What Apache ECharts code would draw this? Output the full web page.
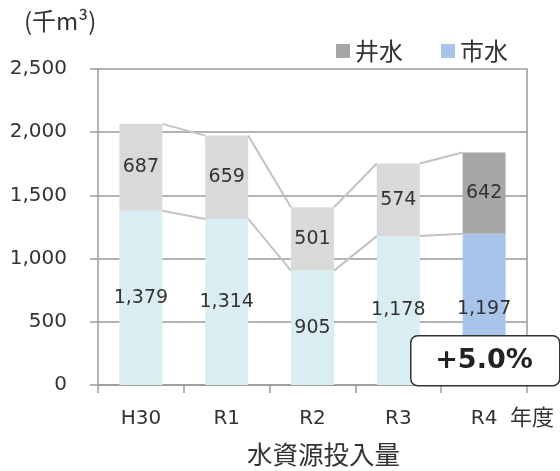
<!DOCTYPE html>
<html><head><meta charset="utf-8">
<script src="https://cdn.jsdelivr.net/npm/echarts@6/dist/echarts.min.js"></script>
<style>html,body{margin:0;padding:0;background:#fff}#c{width:560px;height:471px}</style>
</head><body><div id="c"></div>
<script>
const categories = ['H30','R1','R2','R3','R4'];
const cityWater = [1379,1314,905,1178,1197];
const wellWater = [687,659,501,574,642];
const yTicks = [0,500,1000,1500,2000,2500];
const changeText = '+5.0%';

const FONT = '"DejaVu Sans","Noto Sans CJK JP",sans-serif';
const CJK = '"Noto Sans CJK JP","DejaVu Sans",sans-serif';
const TXT = '#333';
const cityColor = '#daedf3', cityHi = '#a9c4eb';
const wellColor = '#d9d9d9', wellHi = '#a6a6a6';
const AX = '#9a9a9a';
const last = categories.length - 1;
const fmt = v => v.toLocaleString('en-US');

const connectData = [];
for (let i = 0; i < last; i++) {
  connectData.push([i, cityWater[i], cityWater[i] + wellWater[i], cityWater[i+1], cityWater[i+1] + wellWater[i+1]]);
}

const chart = echarts.init(document.getElementById('c'), null, {renderer:'canvas'});
chart.setOption({
  animation:false,
  textStyle:{fontFamily:FONT},
  grid:{left:98,right:33,top:69,bottom:86},
  legend:{
    left:331, top:34, itemWidth:14, itemHeight:14, itemGap:38, icon:'rect',
    textStyle:{fontSize:24,color:TXT,fontFamily:CJK},
    data:[{name:'井水',itemStyle:{color:wellHi}},{name:'市水',itemStyle:{color:cityHi}}]
  },
  xAxis:{
    type:'category', data:categories,
    axisLine:{lineStyle:{color:AX,width:1.5}},
    axisTick:{show:true,length:8,lineStyle:{color:AX,width:1.5}},
    axisLabel:{fontSize:20,color:TXT,margin:24,fontFamily:FONT}
  },
  yAxis:[{
    type:'value', min:yTicks[0], max:yTicks[yTicks.length-1], interval:500,
    axisLine:{show:true,lineStyle:{color:AX,width:1.5}},
    axisTick:{show:true,length:8,lineStyle:{color:AX,width:1.5}},
    splitLine:{lineStyle:{color:AX,width:1.5}},
    axisLabel:{fontSize:20,color:TXT,margin:31,formatter:v=>fmt(v),fontFamily:FONT}
  },{
    type:'value', position:'right', min:yTicks[0], max:yTicks[yTicks.length-1], interval:500,
    axisLine:{show:true,lineStyle:{color:AX,width:1.5}},
    axisTick:{show:false}, axisLabel:{show:false}, splitLine:{show:false}
  }],
  series:[
    {
      name:'市水', type:'bar', stack:'t', barWidth:43,
      itemStyle:{color:cityColor},
      label:{show:true,position:'inside',fontSize:19,color:TXT,formatter:p=>fmt(p.value),fontFamily:FONT},
      data:cityWater.map((v,i)=> i===last ? {value:v,itemStyle:{color:cityHi}} : v)
    },
    {
      name:'井水', type:'bar', stack:'t', barWidth:43,
      itemStyle:{color:wellColor},
      label:{show:true,position:'inside',fontSize:19,color:TXT,formatter:p=>fmt(p.value),fontFamily:FONT},
      data:wellWater.map((v,i)=> i===last ? {value:v,itemStyle:{color:wellHi}} : v)
    },
    {
      name:'connect', type:'custom', silent:true, z:1,
      encode:{x:0,y:[1,2,3,4]},
      data:connectData,
      renderItem:function(params, api){
        const i = api.value(0);
        const half = api.size([1,0])[0] * 43/85.8 / 2;
        const a1 = api.coord([i, api.value(1)]), a2 = api.coord([i, api.value(2)]);
        const b1 = api.coord([i+1, api.value(3)]), b2 = api.coord([i+1, api.value(4)]);
        const st = {stroke:'#c3c3c3', lineWidth:2};
        return {type:'group', children:[
          {type:'line', shape:{x1:a1[0]+half,y1:a1[1],x2:b1[0]-half,y2:b1[1]}, style:st},
          {type:'line', shape:{x1:a2[0]+half,y1:a2[1],x2:b2[0]-half,y2:b2[1]}, style:st}
        ]};
      }
    }
  ],
  graphic:[
    {type:'text', left:24, top:9, style:{text:'(千m³)', fontSize:24, fill:TXT, fontFamily:CJK}},
    {type:'text', left:510, top:406, style:{text:'年度', fontSize:22, fill:TXT, fontFamily:CJK}},
    {type:'text', left:247, top:442, style:{text:'水資源投入量', fontSize:25.5, fill:TXT, fontFamily:CJK}},
    {type:'rect', left:410, top:335, z:100, shape:{width:149,height:50,r:7}, style:{fill:'#fff',stroke:'#333',lineWidth:1.5}},
    {type:'text', z:101, x:484, y:361, style:{text:changeText, fontSize:27, fontWeight:'bold', fill:'#222', align:'center', verticalAlign:'middle', fontFamily:FONT}}
  ]
});
</script></body></html>
